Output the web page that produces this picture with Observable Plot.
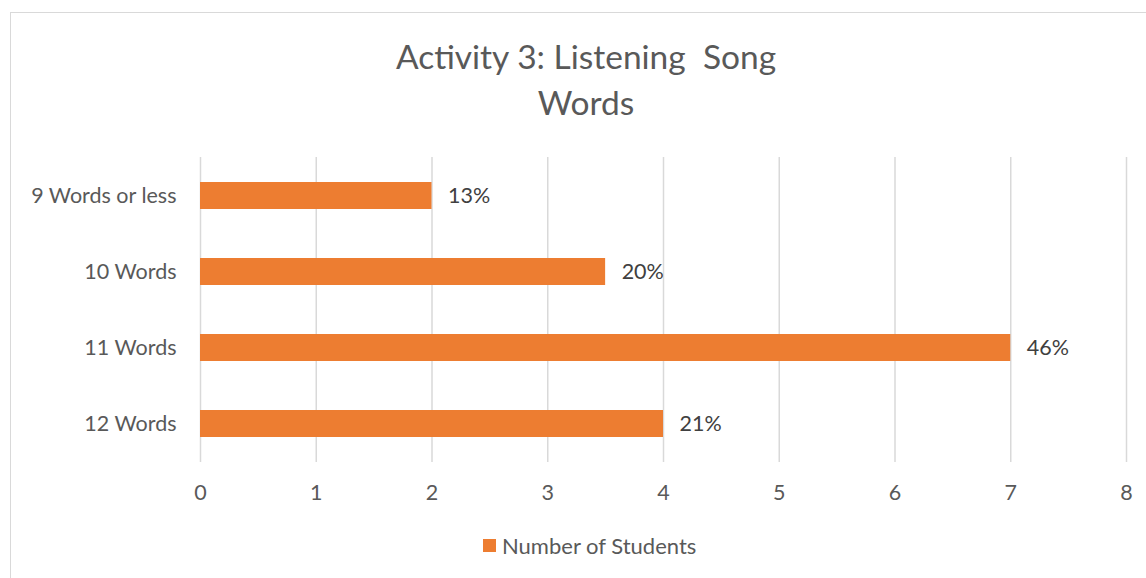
<!DOCTYPE html>
<html>
<head>
<meta charset="utf-8">
<script src="https://cdn.jsdelivr.net/npm/d3@7"></script>
<script src="https://cdn.jsdelivr.net/npm/@observablehq/plot@0.6"></script>
<style>
  body { margin: 0; background: #fff; }
  #wrap { position: relative; width: 1146px; height: 578px; overflow: hidden; font-family: Lato, "Open Sans", sans-serif; }
  #border { position: absolute; left: 10px; top: 12px; width: 1150px; height: 580px; border: 1px solid #d9d9d9; box-sizing: border-box; }
  #title { position: absolute; left: 0; width: 1172px; top: 33px; text-align: center; font-size: 33.5px; line-height: 46px; color: #595959; }
  #legend { position: absolute; top: 532px; left: 483px; font-size: 22px; color: #595959; display: flex; align-items: center; }
  #legend span.sw { display: inline-block; width: 13px; height: 13px; background: #ED7D31; margin-right: 6px; }
  #chart { position: absolute; left: 0; top: 0; }
</style>
</head>
<body>
<div id="wrap">
  <div id="border"></div>
  <div id="chart"></div>
  <div id="title">Activity 3: Listening&nbsp; Song<br>Words</div>
  <div id="legend"><span class="sw"></span>Number of Students</div>
</div>
<script>
const categories = ["9 Words or less", "10 Words", "11 Words", "12 Words"];
const students = [2, 3.5, 7, 4];
const percentLabels = ["13%", "20%", "46%", "21%"];
const xTicks = [0, 1, 2, 3, 4, 5, 6, 7, 8];

const data = categories.map((c, i) => ({ category: c, value: students[i], label: percentLabels[i] }));

const chart = Plot.plot({
  width: 1146,
  height: 578,
  marginLeft: 200,
  marginRight: 20,
  marginTop: 157,
  marginBottom: 116,
  style: { fontFamily: "Lato, 'Open Sans', sans-serif", fontSize: "21.5px", color: "#595959", background: "transparent" },
  x: { domain: [0, 8], ticks: xTicks, tickSize: 0, tickPadding: 22, label: null },
  y: { domain: categories, paddingInner: 0.645, paddingOuter: 0.3225, tickSize: 0, tickPadding: 24, label: null },
  marks: [
    Plot.gridX(xTicks, { stroke: "#d9d9d9", strokeOpacity: 1, strokeWidth: 1.5 }),
    Plot.barX(data, { x: "value", y: "category", fill: "#ED7D31" }),
    Plot.text(data, { x: "value", y: "category", text: "label", textAnchor: "start", dx: 16, fontSize: 21.5, fill: "#404040" })
  ]
});
document.getElementById("chart").appendChild(chart);
</script>
</body>
</html>
